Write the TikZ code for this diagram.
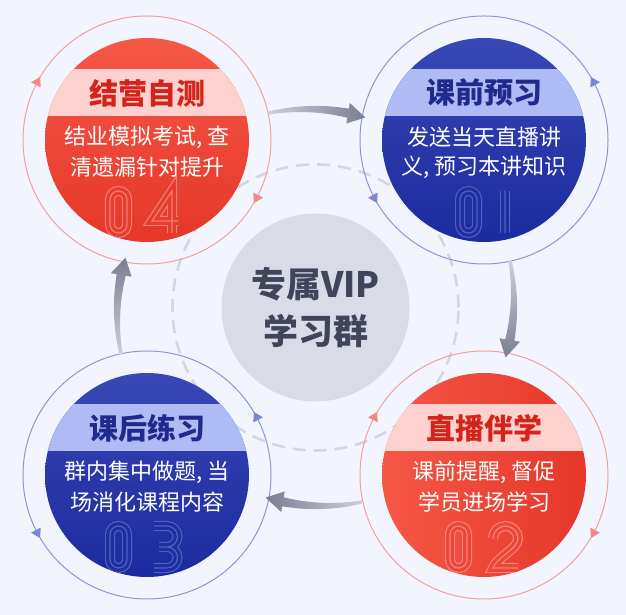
\documentclass[tikz,border=0pt]{standalone}
\usepackage{fontspec}
\newfontfamily\cjk{Noto Sans CJK SC}
\usetikzlibrary{calc}
\definecolor{CycleBack}{HTML}{F3F5FE}
\definecolor{CycleDash}{HTML}{D4D7E2}
\definecolor{CycleHub}{HTML}{D9DBE6}
\definecolor{CycleHubText}{HTML}{40455A}
\definecolor{CycleRedTop}{HTML}{F65746}
\definecolor{CycleRedBottom}{HTML}{E5372A}
\definecolor{CycleRedBand}{HTML}{FDD2CE}
\definecolor{CycleRedTitle}{HTML}{D5231A}
\definecolor{CycleRedRing}{HTML}{F2A19A}
\definecolor{CycleRedTick}{HTML}{F08A82}
\definecolor{CycleRedGlow}{HTML}{FFFFFF}
\definecolor{CycleBlueTop}{HTML}{3848B5}
\definecolor{CycleBlueBottom}{HTML}{1B2A9E}
\definecolor{CycleBlueBand}{HTML}{AEBBF5}
\definecolor{CycleBlueTitle}{HTML}{1E2B8C}
\definecolor{CycleBlueRing}{HTML}{8C95DA}
\definecolor{CycleBlueTick}{HTML}{7B86D2}
\definecolor{CycleBlueGlow}{HTML}{B4C0FA}
\definecolor{CycleArrowLight}{HTML}{CDD0DA}
\definecolor{CycleArrowDark}{HTML}{7A7E91}
% centre lines of the outlined numerals
\newcommand{\digitzero}[2]{(#1,#2+8.5) -- (#1,#2+33.5) arc[start angle=180,end angle=0,radius=8.5] -- (#1+17,#2+8.5) arc[start angle=0,end angle=-180,radius=8.5] -- cycle}
\newcommand{\digitone}[2]{(#1,#2) -- (#1,#2+42)}
\newcommand{\digittwo}[2]{(#1,#2+29.5) arc[start angle=180,end angle=0,radius=12.5] .. controls (#1+25,#2+19) and (#1+4,#2+11) .. (#1,#2) -- (#1+25,#2)}
\newcommand{\digitthree}[2]{(#1+1,#2+42) -- (#1+14,#2+42) arc[start angle=90,end angle=-90,radius=10.5] -- (#1+6,#2+21) (#1+14,#2+21) arc[start angle=90,end angle=-90,radius=10.5] -- (#1+1,#2)}
\newcommand{\digitfour}[2]{(#1+20,#2) -- (#1+20,#2+42) -- (#1,#2+12) -- (#1+26,#2+12)}

\begin{document}
\begin{tikzpicture}[x=1pt,y=1pt,
    stepring/.style={circle,draw,line width=1pt,minimum size=248pt,inner sep=0pt},
    steptitle/.style={font=\cjk\bfseries\fontsize{29}{34}\selectfont,inner sep=0pt},
    steptext/.style={font=\cjk\fontsize{22}{26}\selectfont,text=white,inner sep=0pt},
    hubtext/.style={font=\cjk\bfseries\fontsize{35}{40}\selectfont,text=CycleHubText,inner sep=0pt},
    redV/.style={top color=CycleRedTop,bottom color=CycleRedBottom},
    redH/.style={left color=CycleRedTop,right color=CycleRedBottom},
    blueV/.style={top color=CycleBlueTop,bottom color=CycleBlueBottom},
    arrowE/.style={left color=CycleArrowLight,right color=CycleArrowDark},
    arrowS/.style={top color=CycleArrowLight,bottom color=CycleArrowDark},
    arrowW/.style={right color=CycleArrowLight,left color=CycleArrowDark},
    arrowN/.style={bottom color=CycleArrowLight,top color=CycleArrowDark}]
  \fill[CycleBack] (0,0) rectangle (626,615);

  \node[circle,fill=CycleHub,minimum size=188pt,inner sep=0pt] (hub) at (315.5,307.5) {};
  \draw[CycleDash,line width=2.6pt,dash pattern=on 13pt off 8pt] (hub.center) circle[radius=143];
  \node[hubtext] (hubA) at ($(hub.center)+(0,23)$) {专属VIP};
  \node[hubtext] (hubB) at ($(hub.center)+(0,-24)$) {学习群};

  \foreach \name/\x/\y/\tone/\fillstyle/\mixpt/\spin/\title/\textA/\textB/\numerals in {
      04/147/475/Red/redV/85/-1/结营自测/{结业模拟考试, 查}/清遗漏针对提升/{\digitzero{-37}{-93} \digitfour{5}{-93}},
      01/484/475/Blue/blueV/85/1/课前预习/发送当天直播讲/{义, 预习本讲知识}/{\digitzero{-24}{-93} \digitone{21}{-93}},
      03/147/140/Blue/blueV/85/1/课后练习/{群内集中做题, 当}/场消化课程内容/{\digitzero{-37}{-93} \digitthree{6}{-93}},
      02/484/140/Red/redH/55/-1/直播伴学/{课前提醒, 督促}/学员进场学习/{\digitzero{-34}{-93} \digittwo{9}{-93}}} {
    \colorlet{StepGap}{Cycle\tone Bottom!\mixpt!Cycle\tone Top}
    \colorlet{StepLine}{StepGap!66!Cycle\tone Glow}
    \node[stepring,draw=Cycle\tone Ring] (step\name) at (\x,\y) {};
    \begin{scope}[shift={(\x,\y)}]
      \begin{scope}
        \clip (0,0) circle[radius=102];
        \shade[\fillstyle] (-102,-102) rectangle (102,102);
        \fill[Cycle\tone Band] (-102,24) rectangle (102,71);
        \draw[StepLine,line width=10pt] \numerals;
        \draw[StepGap,line width=7.6pt] \numerals;
        \draw[StepLine,line width=1.2pt] \numerals;
      \end{scope}
      \foreach \a in {0,180}
        \fill[Cycle\tone Tick,rotate={90-62*\spin+\a}] (118.5,-3.5*\spin) -- (129.5,-3.5*\spin) -- (124,5.5*\spin) -- cycle;
    \end{scope}
    \node[steptitle,text=Cycle\tone Title] (title\name) at (\x,\y+47) {\title};
    \node[steptext] (textA\name) at (\x,\y+2.5) {\textA};
    \node[steptext] (textB\name) at (\x,\y-27.5) {\textB};
  }

  % tapered arrows round the hub
  \foreach \m/\look in {90/arrowE,0/arrowS,-90/arrowW,180/arrowN}
    \shade[\look,shift={(hub.center)}]
      plot[domain=\m+13.5:\m-9.5,samples=24] (\x:{201.6})
      -- (\m-9.5:207.5) -- (\m-14.7:196.5) -- (\m-9.5:186.5)
      -- plot[domain=\m-9.5:\m+13.5,samples=24] (\x:{198.4-0.26*(\m+13.5-\x)}) -- cycle;
\end{tikzpicture}
\end{document}
